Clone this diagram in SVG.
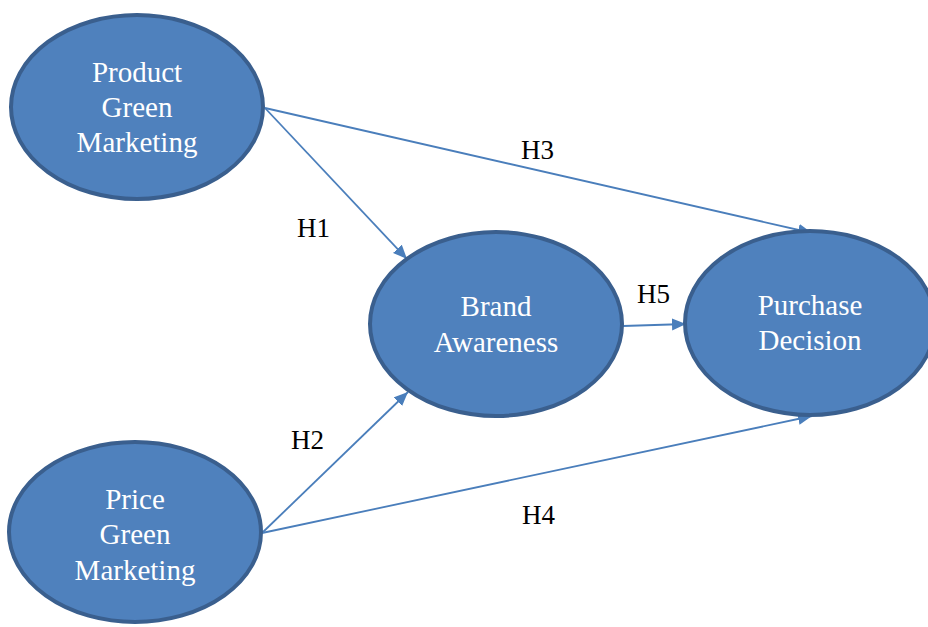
<svg xmlns="http://www.w3.org/2000/svg" width="928" height="627" viewBox="0 0 928 627">
  <style>
    .node ellipse { fill: #4f81bd; stroke: #3a5f8e; stroke-width: 4; }
    .node text { font-family: 'Liberation Serif', 'Times New Roman', 'DejaVu Serif', serif; font-size: 29px; fill: #ffffff; text-anchor: middle; }
    .edge { stroke: #4a7ebb; stroke-width: 1.8; fill: none; marker-end: url(#arrow); }
    .label { font-family: 'Liberation Serif', 'Times New Roman', 'DejaVu Serif', serif; font-size: 27px; fill: #000000; }
  </style>
  <defs>
    <marker id="arrow" markerUnits="userSpaceOnUse" markerWidth="16" markerHeight="14" refX="14" refY="6" orient="auto">
      <path d="M0,0 L14,6 L0,12 Z" fill="#4a7ebb"/>
    </marker>
  </defs>
  <rect width="928" height="627" fill="#ffffff"/>

  <!-- connectors -->
  <g id="connectors">
    <line class="edge" x1="265" y1="108" x2="407" y2="259"/>
    <line class="edge" x1="265" y1="108" x2="812" y2="233"/>
    <line class="edge" x1="262" y1="533" x2="408" y2="392"/>
    <line class="edge" x1="262" y1="533" x2="812" y2="416"/>
    <line class="edge" x1="623" y1="326" x2="686" y2="324"/>
  </g>

  <!-- hypothesis labels -->
  <g id="labels">
    <text class="label" x="297" y="237">H1</text>
    <text class="label" x="521" y="159">H3</text>
    <text class="label" x="291" y="449">H2</text>
    <text class="label" x="522" y="524">H4</text>
    <text class="label" x="637" y="303">H5</text>
  </g>

  <g id="product-green-marketing" class="node">
    <ellipse cx="137" cy="107" rx="126" ry="92"/>
    <text x="137" y="82">Product</text>
    <text x="137" y="117">Green</text>
    <text x="137" y="152">Marketing</text>
  </g>

  <g id="price-green-marketing" class="node">
    <ellipse cx="135" cy="532" rx="126" ry="90"/>
    <text x="135" y="509">Price</text>
    <text x="135" y="544">Green</text>
    <text x="135" y="580">Marketing</text>
  </g>

  <g id="brand-awareness" class="node">
    <ellipse cx="496" cy="324" rx="126" ry="92"/>
    <text x="496" y="316">Brand</text>
    <text x="496" y="352">Awareness</text>
  </g>

  <g id="purchase-decision" class="node">
    <ellipse cx="810" cy="323" rx="125" ry="92"/>
    <text x="810" y="315">Purchase</text>
    <text x="810" y="350">Decision</text>
  </g>
</svg>
